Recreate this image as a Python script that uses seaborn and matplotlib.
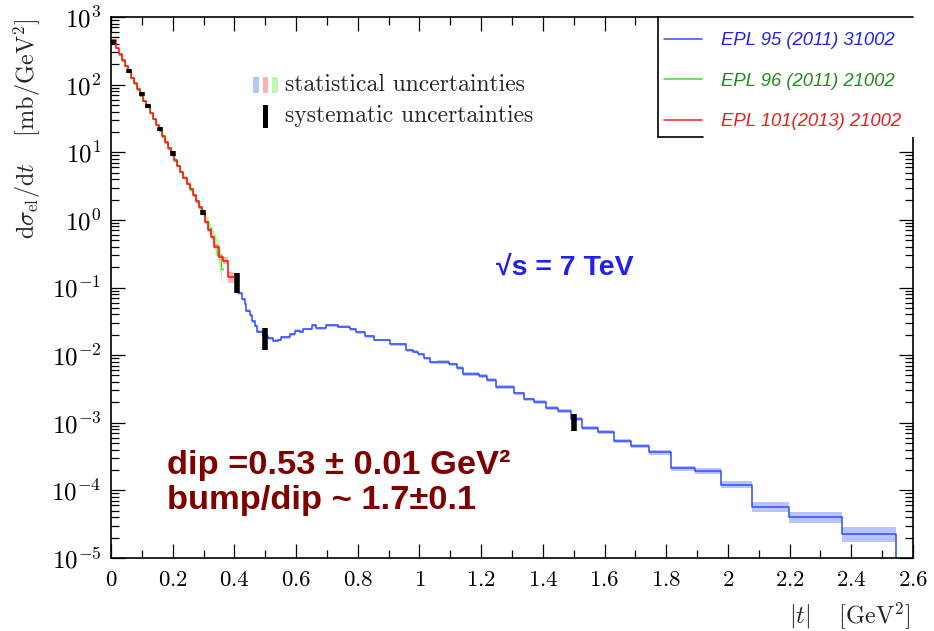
import numpy as np
import pandas as pd
import matplotlib
matplotlib.use("Agg")
import matplotlib.pyplot as plt
import matplotlib.ticker as mticker
from matplotlib.lines import Line2D
from matplotlib.patches import Rectangle
import seaborn as sns

# ---------------- data ----------------
# EPL 95 (2011) 31002 : bin edges |t| [GeV^2] and dsigma/dt [mb/GeV^2]
blue_edges = [0.401, 0.412, 0.426, 0.434, 0.439, 0.450, 0.457, 0.466, 0.473, 0.493,
              0.509, 0.525, 0.542, 0.552, 0.579, 0.595, 0.612, 0.622, 0.650, 0.663,
              0.696, 0.736, 0.776, 0.793, 0.822, 0.854, 0.903, 0.957, 0.978, 0.994,
              1.016, 1.035, 1.056, 1.097, 1.121, 1.142, 1.194, 1.218, 1.248, 1.307,
              1.340, 1.372, 1.410, 1.448, 1.491, 1.528, 1.580, 1.631, 1.685, 1.744,
              1.815, 1.893, 1.978, 2.079, 2.197, 2.370, 2.545, 2.595]
blue_vals = [0.117, 0.0818, 0.0667, 0.0568, 0.0452, 0.0391, 0.0318, 0.0271, 0.0221, 0.0190,
             0.0178, 0.0163, 0.0167, 0.0184, 0.0203, 0.0228, 0.0221, 0.0243, 0.0278, 0.0248,
             0.0278, 0.0263, 0.0240, 0.0217, 0.0191, 0.0167, 0.0144, 0.01186, 0.0112, 0.01035,
             0.00894, 0.00779, 0.0079, 0.00727, 0.00648, 0.00524, 0.00494, 0.00427, 0.00340, 0.00271,
             0.00221, 0.00204, 0.00166, 0.00148, 0.00112, 0.000824, 0.000733, 0.000540, 0.000455, 0.000364,
             0.000211, 0.000192, 0.000122, 5.70e-5, 4.02e-5, 2.23e-5, 1e-6]
blue_stat = [0.05, 0.05, 0.05, 0.05, 0.05, 0.05, 0.05, 0.05, 0.05, 0.05,
             0.05, 0.05, 0.05, 0.05, 0.05, 0.05, 0.05, 0.05, 0.05, 0.05,
             0.05, 0.05, 0.05, 0.05, 0.05, 0.05, 0.05, 0.05, 0.05, 0.05,
             0.06, 0.06, 0.06, 0.06, 0.06, 0.06, 0.06, 0.06, 0.06, 0.06,
             0.06, 0.06, 0.06, 0.07, 0.07, 0.07, 0.07, 0.08, 0.08, 0.09,
             0.10, 0.10, 0.13, 0.18, 0.21, 0.30, 0.0]

# EPL 101 (2013) 21002
red_edges = [0.003, 0.015, 0.025, 0.035, 0.045, 0.055, 0.065, 0.075, 0.085, 0.095,
             0.105, 0.115, 0.125, 0.135, 0.145, 0.155, 0.165, 0.175, 0.185, 0.195,
             0.205, 0.215, 0.225, 0.235, 0.245, 0.255, 0.265, 0.275, 0.285, 0.295,
             0.305, 0.315, 0.325, 0.335, 0.351, 0.364, 0.380, 0.398]
red_vals = [450, 345, 282, 230, 188, 155, 127, 104, 85.5, 70.5,
            57.5, 47.0, 38.3, 31.2, 25.6, 21.0, 17.1, 14.0, 11.5, 9.40,
            7.70, 6.30, 5.15, 4.22, 3.45, 2.82, 2.31, 1.89, 1.55, 1.27,
            0.92, 0.71, 0.56, 0.40, 0.284, 0.248, 0.141]
red_stat = [0.02, 0.02, 0.02, 0.02, 0.02, 0.02, 0.02, 0.02, 0.02, 0.02,
            0.02, 0.02, 0.02, 0.02, 0.02, 0.02, 0.03, 0.03, 0.03, 0.03,
            0.03, 0.03, 0.03, 0.04, 0.04, 0.04, 0.04, 0.05, 0.05, 0.05,
            0.06, 0.07, 0.08, 0.09, 0.10, 0.12, 0.20]

# EPL 96 (2011) 21002
green_edges = [0.025, 0.035, 0.045, 0.055, 0.065, 0.075, 0.085, 0.095, 0.105, 0.115,
               0.125, 0.135, 0.145, 0.155, 0.165, 0.175, 0.185, 0.195, 0.205, 0.215,
               0.225, 0.235, 0.245, 0.255, 0.265, 0.275, 0.285, 0.295, 0.305, 0.315,
               0.325, 0.335, 0.345, 0.355, 0.362]
green_vals = [278, 227, 186, 152, 125, 102, 84.0, 69.0, 56.5, 46.2,
              37.8, 30.8, 25.2, 20.6, 16.9, 13.8, 11.3, 9.25, 7.55, 6.18,
              5.05, 4.12, 3.38, 2.76, 2.25, 1.84, 1.50, 1.22, 0.97, 0.76,
              0.57, 0.43, 0.30, 0.19]
green_stat = [0.03, 0.03, 0.03, 0.03, 0.03, 0.03, 0.03, 0.03, 0.03, 0.03,
              0.03, 0.03, 0.03, 0.03, 0.03, 0.03, 0.04, 0.04, 0.04, 0.05,
              0.05, 0.06, 0.07, 0.08, 0.09, 0.10, 0.12, 0.14, 0.17, 0.22,
              0.28, 0.38, 0.50, 0.70]

# systematic uncertainty bars: |t|, low, high
syst_t = [0.007, 0.059, 0.099, 0.119, 0.159, 0.200, 0.299, 0.410, 0.500, 1.500]
syst_lo = [402, 150, 67.8, 45.0, 20.3, 8.7, 1.17, 0.083, 0.0121, 7.6e-4]
syst_hi = [462, 172, 77.5, 51.5, 23.3, 10.5, 1.42, 0.163, 0.0254, 1.37e-3]

legend_labels = ["EPL 95 (2011) 31002", "EPL 96 (2011) 21002", "EPL 101(2013) 21002"]
x_ticks = [0, 0.2, 0.4, 0.6, 0.8, 1, 1.2, 1.4, 1.6, 1.8, 2, 2.2, 2.4, 2.6]
y_decades = [-5, -4, -3, -2, -1, 0, 1, 2, 3]

# ---------------- style ----------------
sns.set_theme(style="white")
plt.rcParams.update({
    "font.family": ["DejaVu Sans"],
    "mathtext.fontset": "cm",
    "axes.linewidth": 1.1,
    "axes.edgecolor": "black",
    "xtick.direction": "in",
    "ytick.direction": "in",
    "xtick.bottom": True,
    "ytick.left": True,
    "xtick.top": True,
    "ytick.right": True,
    "xtick.color": "black",
    "ytick.color": "black",
})

line_cols = {"blue": "#2f4cff", "red": "#ff1a1a", "green": "#44dd33"}
band_cols = {"blue": "#b8c4fa", "red": "#fbb4b4", "green": "#c2f5b2"}

fig = plt.figure(figsize=(9.34, 6.31), dpi=100)
ax = fig.add_axes([111 / 934, 1 - 558 / 631, 802 / 934, 541 / 631])
ax.set_yscale("log")
for side in ["left", "right", "top", "bottom"]:
    ax.spines[side].set_visible(True)
    ax.spines[side].set_color("black")
    ax.spines[side].set_linewidth(1.2)
    ax.spines[side].set_zorder(6)


def step_frame(edges, vals):
    return pd.DataFrame({"t": edges, "v": list(vals) + [vals[-1]]})


def draw_series(edges, vals, stat, key, smooth_band=False, lw=1.1, z=3):
    df = step_frame(edges, vals)
    v = np.asarray(vals, float)
    e = np.asarray(stat, float)
    lo = v / (1 + e)
    hi = v * (1 + e)
    if smooth_band:
        centers = 0.5 * (np.asarray(edges[:-1]) + np.asarray(edges[1:]))
        ax.fill_between(centers, lo, hi, color=band_cols[key], lw=0, zorder=1)
    else:
        ax.fill_between(edges, list(lo) + [lo[-1]], list(hi) + [hi[-1]],
                        step="post", color=band_cols[key], lw=0, zorder=1)
    sns.lineplot(data=df, x="t", y="v", ax=ax, drawstyle="steps-post",
                 color=line_cols[key], lw=lw, estimator=None, sort=False,
                 legend=False, zorder=z)


draw_series(green_edges, green_vals, green_stat, "green", smooth_band=True, lw=1.0, z=2)
draw_series(red_edges, red_vals, red_stat, "red", lw=1.2, z=3)
draw_series(blue_edges, blue_vals, blue_stat, "blue", lw=1.1, z=3)

ax.vlines(syst_t, syst_lo, syst_hi, colors="black", lw=4, zorder=5)

# ---------------- axes ----------------
ax.set_xlim(0, 2.6)
ax.set_ylim(1e-5, 1e3)
ax.set_xticks(x_ticks)
ax.xaxis.set_minor_locator(mticker.MultipleLocator(0.1))
ax.xaxis.set_major_formatter(mticker.FuncFormatter(lambda v, _: rf"${v:g}$"))
major_y = [10.0 ** d for d in y_decades]
minor_y = [k * 10.0 ** d for d in y_decades[:-1] for k in range(2, 10)]
ax.yaxis.set_major_locator(mticker.FixedLocator(major_y))
ax.yaxis.set_minor_locator(mticker.FixedLocator(minor_y))
ax.yaxis.set_minor_formatter(mticker.NullFormatter())
ax.yaxis.set_major_formatter(
    mticker.FuncFormatter(lambda v, _: rf"$10^{{{int(round(np.log10(v)))}}}$"))
ax.tick_params(which="major", length=10, width=0.9, labelsize=16.5, pad=7)
ax.tick_params(axis="y", which="major", labelsize=18)
ax.tick_params(which="minor", length=5.5, width=0.9)
ax.xaxis.label.set_visible(False)
ax.yaxis.label.set_visible(False)

fig.text(27 / 934, 1 - 18 / 631,
         r"$\mathrm{d}\sigma_{\mathrm{el}}/\mathrm{d}t\quad\;[\mathrm{mb}/\mathrm{GeV}^2]$",
         rotation=90, ha="center", va="top", fontsize=17.5)
fig.text(910 / 934, 1 - 616 / 631, r"$|t|\quad\;[\mathrm{GeV}^2]$",
         ha="right", va="center", fontsize=17.5)

# ---------------- annotations ----------------
ax.text((496 - 111) / 802, (558 - 268) / 541, "√s = 7 TeV", transform=ax.transAxes,
        ha="left", va="center", fontsize=20.5, fontweight="bold", color="#2020f0",
        family="Liberation Sans")
ax.text((167 - 111) / 802, (558 - 465) / 541, "dip =0.53 ± 0.01 GeV²",
        transform=ax.transAxes, ha="left", va="center", fontsize=24.8,
        fontweight="bold", color="#800000", family="Liberation Sans")
ax.text((167 - 111) / 802, (558 - 500) / 541, "bump/dip ~ 1.7±0.1",
        transform=ax.transAxes, ha="left", va="center", fontsize=24.8,
        fontweight="bold", color="#800000", family="Liberation Sans")

# uncertainty key
for x0, key in zip([253, 262.5, 272], ["blue", "red", "green"]):
    ax.add_patch(Rectangle(((x0 - 111) / 802, (558 - 93) / 541), 5.5 / 802, 16 / 541,
                           transform=ax.transAxes, color=band_cols[key], lw=0))
ax.add_patch(Rectangle(((263 - 111) / 802, (558 - 128) / 541), 5 / 802, 23 / 541,
                       transform=ax.transAxes, color="black", lw=0))
ax.text((285 - 111) / 802, (558 - 85) / 541, "statistical uncertainties",
        transform=ax.transAxes, ha="left", va="center", fontsize=17, family="cmr10")
ax.text((285 - 111) / 802, (558 - 116) / 541, "systematic uncertainties",
        transform=ax.transAxes, ha="left", va="center", fontsize=17, family="cmr10")

# ---------------- publication key ----------------
bx0 = (658 - 111) / 802
by0 = (558 - 137) / 541
ax.add_patch(Rectangle((bx0, by0), 1.0 - bx0 + 0.002, 1.0 - by0 + 0.002,
                       transform=ax.transAxes, facecolor="white", edgecolor="none",
                       zorder=8, clip_on=False))
ax.plot([bx0, bx0], [by0, 1.0], transform=ax.transAxes, color="black", lw=1.2,
        zorder=9, clip_on=False)
ax.plot([bx0, (703 - 111) / 802], [by0, by0], transform=ax.transAxes, color="black",
        lw=1.2, zorder=9, clip_on=False)
ax.plot([bx0, 1.0], [1.0, 1.0], transform=ax.transAxes, color="black", lw=1.2,
        zorder=9, clip_on=False)

handles = [Line2D([], [], color=line_cols[k], lw=1.1) for k in ["blue", "green", "red"]]
leg = ax.legend(handles, legend_labels, loc="upper left",
                bbox_to_anchor=((664 - 111) / 802, (558 - 32) / 541),
                frameon=False, prop={"family": "Liberation Sans", "style": "italic",
                                     "size": 13.3},
                labelcolor=["#2222ee", "#1f8a1f", "#ee1c1c"],
                handlelength=2.05, handletextpad=1.05, labelspacing=1.28,
                borderaxespad=0, borderpad=0.0)
leg.set_zorder(10)

fig.savefig("out.png", dpi=100)
